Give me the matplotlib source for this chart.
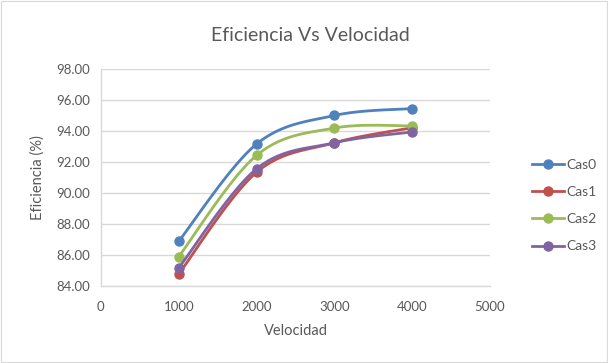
import matplotlib.pyplot as plt
import numpy as np
from matplotlib.patches import Rectangle

plt.rcParams["font.family"] = ["Lato", "DejaVu Sans"]

velocidad = [1000, 2000, 3000, 4000]
cas0 = [86.89, 93.16, 95.00, 95.45]
cas1 = [84.78, 91.34, 93.24, 94.21]
cas2 = [85.90, 92.43, 94.19, 94.33]
cas3 = [85.17, 91.56, 93.24, 93.94]
series_names = ["Cas0", "Cas1", "Cas2", "Cas3"]
colors = ["#4F81BD", "#C0504D", "#9BBB59", "#8064A2"]
y_ticks = [84, 86, 88, 90, 92, 94, 96, 98]
x_ticks = [0, 1000, 2000, 3000, 4000, 5000]

text_color = "#595959"
grid_color = "#D9D9D9"


def smooth(x, y, steps=30):
    # Catmull-Rom style cubic Bezier through the points (spreadsheet "smoothed line")
    x = np.asarray(x, float)
    y = np.asarray(y, float)
    px, py = [x[0]], [y[0]]
    n = len(x)
    for i in range(n - 1):
        i0, i3 = max(i - 1, 0), min(i + 2, n - 1)
        c1x = x[i] + (x[i + 1] - x[i0]) / 6
        c1y = y[i] + (y[i + 1] - y[i0]) / 6
        c2x = x[i + 1] - (x[i3] - x[i]) / 6
        c2y = y[i + 1] - (y[i3] - y[i]) / 6
        t = np.linspace(0, 1, steps)[1:]
        bx = (1 - t) ** 3 * x[i] + 3 * (1 - t) ** 2 * t * c1x + 3 * (1 - t) * t ** 2 * c2x + t ** 3 * x[i + 1]
        by = (1 - t) ** 3 * y[i] + 3 * (1 - t) ** 2 * t * c1y + 3 * (1 - t) * t ** 2 * c2y + t ** 3 * y[i + 1]
        px.extend(bx)
        py.extend(by)
    return np.array(px), np.array(py)


fig = plt.figure(figsize=(6.08, 3.63), dpi=100)
fig.patches.append(Rectangle((0.002, 0.003), 0.996, 0.994, transform=fig.transFigure,
                             fill=False, edgecolor="#D9D9D9", linewidth=0.8))
ax = fig.add_axes([0.166, 0.212, 0.640, 0.598])

for name, vals, c in zip(series_names, [cas0, cas1, cas2, cas3], colors):
    sx, sy = smooth(velocidad, vals)
    ax.plot(sx, sy, color=c, linewidth=2.0, solid_capstyle="round")
    ax.plot(velocidad, vals, linestyle="none", marker="o", markersize=6.5, color=c)
    ax.plot([], [], color=c, linewidth=2.0, marker="o", markersize=6.5, label=name)

ax.set_xlim(0, 5000)
ax.set_ylim(84, 98)
ax.set_xticks(x_ticks)
ax.set_yticks(y_ticks)
ax.set_yticklabels([f"{v:.2f}" for v in y_ticks])
ax.tick_params(axis="x", pad=11)
ax.tick_params(axis="y", pad=8)
ax.tick_params(length=0, labelsize=9.5, colors=text_color)
ax.grid(axis="y", color=grid_color, linewidth=1.0)
ax.set_axisbelow(True)
for side in ["top", "right"]:
    ax.spines[side].set_visible(False)
for side in ["left", "bottom"]:
    ax.spines[side].set_color(grid_color)
    ax.spines[side].set_linewidth(1.0)

ax.set_xlabel("Velocidad", fontsize=10.5, color=text_color, labelpad=8)
ax.set_ylabel("Eficiencia (%)", fontsize=10.5, color=text_color, labelpad=8)
fig.text(0.51, 0.902, "Eficiencia Vs Velocidad", ha="center", va="center",
         fontsize=14, color=text_color)

leg = fig.legend(loc="center left", bbox_to_anchor=(0.855, 0.434), frameon=False,
                 fontsize=10, labelcolor=text_color, handlelength=2.3,
                 handletextpad=0.15, labelspacing=1.1)

fig.savefig("out.png", dpi=100)
